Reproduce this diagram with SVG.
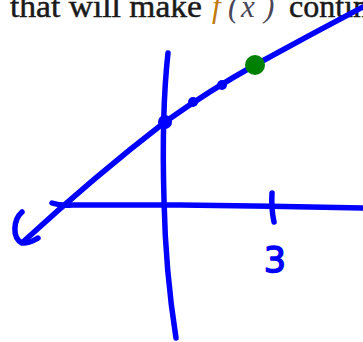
<svg xmlns="http://www.w3.org/2000/svg" width="363" height="342" viewBox="0 0 363 342">
<style>
.pen{fill:none;stroke:#0000ff;stroke-width:5.5;stroke-linecap:round;stroke-linejoin:round}
.txt{font-family:"Liberation Serif","Times New Roman",serif;font-size:32px;fill:#1a1a1a;stroke:#1a1a1a;stroke-width:0.5}
.math{font-family:"Liberation Serif","Times New Roman",serif;font-size:31px;font-style:italic}
</style>
<rect width="363" height="342" fill="#ffffff"/>
<g id="caption">
<text class="txt" x="10" y="17" textLength="192" lengthAdjust="spacingAndGlyphs">that will make</text>
<text class="math" x="212" y="17" fill="#c07a10">f</text>
<text class="math" x="228" y="17" fill="#4a4658" font-style="normal">(</text>
<text class="math" x="241" y="17" fill="#4a4658">x</text>
<text class="math" x="264" y="17" fill="#4a4658" font-style="normal">)</text>
<text class="txt" x="289" y="17">contin</text>
</g>
<g id="axes">
<path id="x-axis" class="pen" d="M52,203 Q60,206 72,205 L180,205 Q270,206 363,208"/>
<path id="y-axis" class="pen" d="M168,53 C165,80 162,130 164,200 C165,250 170,300 176,338"/>
<path id="tick-3" class="pen" d="M272,193 Q271,208 274,222"/>
<text id="label-3" x="275" y="272" text-anchor="middle" font-family="DejaVu Sans, sans-serif" font-size="35" fill="#0000ff" stroke="#0000ff" stroke-width="1.5" stroke-linejoin="round">3</text>
</g>
<g id="connectors">
<path id="curve" class="pen" d="M23,242 Q95,176 165,122 Q210,90 255,65 Q310,35 363,7"/>
<path id="arrowhead" class="pen" d="M22,212 C13,220 12,238 22,243 C28,244 34,240 38,238"/>
</g>
<g id="points">
<circle cx="165" cy="122" r="7" fill="#0000ff"/>
<circle cx="193" cy="102" r="5" fill="#0000ff"/>
<circle cx="222" cy="85" r="5" fill="#0000ff"/>
<circle cx="255" cy="65" r="10" fill="#008000"/>
</g>
</svg>
